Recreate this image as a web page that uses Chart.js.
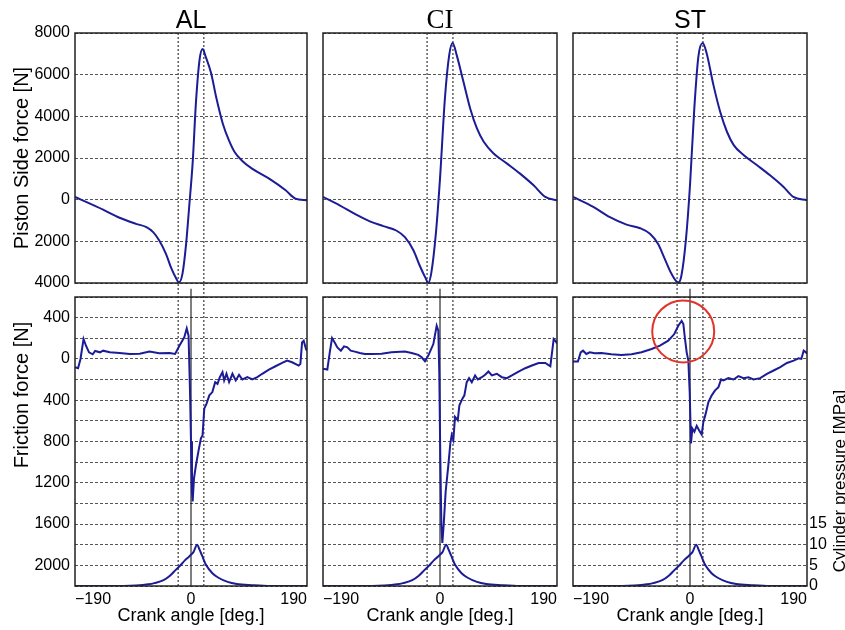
<!DOCTYPE html>
<html>
<head>
<meta charset="utf-8">
<script src="https://cdn.jsdelivr.net/npm/chart.js@4/dist/chart.umd.min.js"></script>
<style>
  html, body { margin: 0; padding: 0; background: #fff; }
  #wrap { position: relative; width: 845px; height: 630px; overflow: hidden; }
  #wrap canvas { position: absolute; left: 0; top: 0; }
</style>
</head>
<body>
<div id="wrap">
  <canvas id="alTop" width="845" height="630"></canvas>
  <canvas id="ciTop" width="845" height="630"></canvas>
  <canvas id="stTop" width="845" height="630"></canvas>
  <canvas id="alBot" width="845" height="630"></canvas>
  <canvas id="ciBot" width="845" height="630"></canvas>
  <canvas id="stBot" width="845" height="630"></canvas>
</div>
<script>
// ---- data ----
const materials = ['AL', 'CI', 'ST'];
const xTicks = [-190, 0, 190];
const guideAngles = [-21, 21];   // dotted reference lines

// piston side force [N]
const alSideAngle = [-190, -144, -117, -90, -73, -62, -52, -41, -33, -24, -20, -14, -8, -3, 3, 8, 14, 19, 24, 33, 41, 52, 62, 72, 84, 100, 128, 155, 171, 190];
const alSideForce = [130, -480, -870, -1160, -1320, -1560, -1960, -2600, -3240, -3800, -3970, -3560, -2120, -350, 1900, 4620, 6710, 7230, 6870, 6070, 4950, 3660, 2860, 2260, 1860, 1490, 1010, 450, 50, -30];
const ciSideAngle = [-190, -163, -136, -114, -92, -71, -57, -43, -33, -24, -19, -14, -6.5, 0, 8, 15, 20.5, 27, 38, 49, 60, 71, 87, 109, 130, 152, 171, 190];
const ciSideForce = [130, -270, -720, -1040, -1270, -1480, -1800, -2440, -3160, -3730, -3990, -3490, -1560, 1010, 4870, 6950, 7520, 6950, 5670, 4380, 3420, 2780, 2220, 1730, 1250, 690, 130, -30];
const stSideAngle = [-190, -157, -130, -103, -81, -65, -52, -41, -30, -19, -14, -6.5, 0, 7, 13.6, 20.6, 27, 38, 49, 60, 71, 87, 109, 130, 152, 168, 190];
const stSideForce = [130, -350, -840, -1200, -1370, -1640, -2120, -2840, -3560, -3970, -3650, -1880, 690, 4380, 6870, 7520, 7030, 5510, 4220, 3260, 2620, 2140, 1650, 1170, 610, 130, -30];

// friction force [N]
const alFricAngle = [-190, -185, -181, -176, -172, -167, -161, -157, -149, -144, -133, -117, -100, -84, -68, -52, -35, -26, -19, -11, -7, -4, -1.6, 0, 1.6, 2.7, 4.9, 8.2, 12.5, 16.3, 19, 21.7, 25.5, 30, 35, 39.6, 43.4, 47.2, 51.6, 54.3, 58.1, 62.4, 67.9, 73.3, 78.7, 84.2, 92.3, 100.4, 108.6, 116.7, 127.6, 138.4, 149.3, 157.4, 165.6, 176.4, 179.2, 181.9, 184.6, 188.4, 190];
const alFricForce = [-80, -90, 0, 193, 128, 64, 45, 77, 64, 80, 64, 58, 48, 51, 71, 55, 58, 48, 128, 209, 295, 225, -321, -803, -1284, -1380, -1156, -1027, -883, -770, -738, -482, -433, -353, -321, -225, -241, -177, -128, -209, -144, -225, -144, -209, -154, -199, -177, -199, -177, -144, -103, -71, -39, -16, -32, -64, -48, 160, 177, 96, 80];
const ciFricAngle = [-190, -183, -179, -175.3, -171, -166.7, -161, -155.8, -150.4, -145, -138.4, -130.3, -122.1, -111.3, -95, -78.7, -57, -46.1, -35.3, -29.8, -24.4, -19, -10.8, -5.4, -2.7, -1.1, 0.5, 2.2, 3.8, 6, 9.2, 13.6, 16.8, 19, 21.7, 24.4, 28.8, 31.5, 36.4, 39.6, 43.4, 47.2, 51.6, 57, 61.4, 67.9, 73.3, 78.7, 84.2, 92.3, 100.4, 108.6, 116.7, 127.6, 138.4, 149.3, 160.2, 171, 179.2, 184.6, 188.4, 190];
const ciFricForce = [-96, -103, 64, 202, 160, 112, 80, 122, 112, 80, 71, 58, 48, 48, 51, 64, 71, 58, 39, 16, -22, 32, 144, 321, 273, -160, -963, -1605, -1782, -1605, -1284, -1027, -819, -738, -786, -562, -594, -449, -385, -353, -225, -186, -225, -160, -199, -177, -154, -122, -160, -144, -177, -186, -160, -122, -90, -64, -39, -39, -71, 193, 167, 150];
const stFricAngle = [-190, -182, -177.5, -173.7, -168.3, -162.9, -154.7, -143.9, -127.6, -111.3, -95, -78.7, -62.4, -48.8, -35.3, -25.5, -19, -13.6, -10.8, -8.1, -5.4, -2.7, -0.5, 1.6, 3.8, 7.1, 10.9, 14.7, 19, 21.7, 25.5, 29.9, 35.3, 40.7, 46.2, 50.5, 54.3, 62.4, 70.6, 78.7, 86.9, 95, 103.2, 114, 124.9, 135.8, 146.6, 157.4, 168.3, 176.4, 180.8, 184.6, 188.4, 190];
const stFricForce = [-26, -26, 64, 80, 48, 64, 55, 58, 45, 39, 45, 64, 96, 128, 177, 241, 321, 369, 337, 193, 64, -16, -321, -819, -674, -706, -648, -690, -732, -610, -530, -417, -353, -305, -273, -199, -209, -186, -199, -167, -186, -177, -199, -186, -144, -112, -80, -39, -16, 6, 0, 80, 64, 50];

// cylinder pressure [MPa] (same trace under each friction plot)
const pressAngle = [-190, -110, -90, -70, -60, -45, -35, -25, -18, -10, -4, 0, 4, 10, 14, 18, 25, 35, 45, 60, 75, 100, 130, 190];
const pressValue = [0, 0, 0.1, 0.4, 0.7, 1.4, 2.4, 3.9, 4.9, 6.2, 7.0, 7.6, 8.2, 10.0, 8.8, 7.4, 5.0, 3.1, 2.0, 1.0, 0.5, 0.2, 0, 0];

// highlighted region in the ST friction plot
const highlightAngle = [-11];
const highlightForce = [266];

// ---- layout ----
const W = 845, H = 630;
const cols = [[75, 307], [323, 557], [573, 807]];
const rows = [[33, 283], [297, 586]];
const LINE = '#1c1c96';
const SANS = "'Liberation Sans', Arial, sans-serif";
const SERIF = "'Liberation Serif', 'Times New Roman', serif";

function xy(xs, ys) { return xs.map((x, i) => ({ x: x, y: ys[i] })); }

function curve(data, axis, smooth) {
  return {
    data: data, yAxisID: axis, borderColor: LINE, borderWidth: 2, pointRadius: 0,
    tension: 0, cubicInterpolationMode: smooth ? 'monotone' : 'default', order: 1
  };
}
function vline(x, y0, y1, dotted) {
  return {
    data: [{ x: x, y: y0 }, { x: x, y: y1 }], yAxisID: 'y',
    borderColor: dotted ? '#3a3a3a' : '#000', borderWidth: dotted ? 1.2 : 1,
    borderDash: dotted ? [2, 2] : [], pointRadius: 0, clip: false, order: 5
  };
}

const framePlugin = {
  id: 'frame',
  afterDatasetsDraw(chart) {
    const a = chart.chartArea, ctx = chart.ctx;
    ctx.save();
    ctx.strokeStyle = '#222';
    ctx.lineWidth = 1.5;
    ctx.strokeRect(a.left, a.top, a.right - a.left, a.bottom - a.top);
    ctx.restore();
  }
};
const sideTextPlugin = {
  id: 'sideText',
  afterDraw(chart, args, opts) {
    (opts.items || []).forEach(t => {
      const ctx = chart.ctx;
      ctx.save();
      ctx.translate(t.x, t.y);
      ctx.rotate(-Math.PI / 2);
      ctx.font = t.size + 'px ' + SANS;
      ctx.fillStyle = '#000';
      ctx.textAlign = 'center';
      ctx.textBaseline = 'middle';
      ctx.fillText(t.text, 0, 0);
      ctx.restore();
    });
  }
};

function panel(id, col, row, datasets, extra) {
  const [left, right] = cols[col];
  const [top, bottom] = rows[row];
  const yW = col === 0 ? left : 0;
  const pW = extra.pressureTicks ? 20 : 0;
  const xH = row === 1 ? H - bottom : 0;
  const tH = row === 0 ? top : 0;
  const isTop = row === 0;

  const scales = {
    x: {
      type: 'linear', min: -190, max: 190, display: !isTop,
      grid: { display: false }, border: { display: false },
      afterBuildTicks: s => { s.ticks = xTicks.map(v => ({ value: v })); },
      afterFit: s => { s.height = xH; },
      ticks: {
        autoSkip: false, maxRotation: 0, padding: -4, align: 'inner',
        font: { size: 16, family: SANS }, color: '#000',
        callback: v => v < 0 ? '\u2212' + Math.abs(v) : String(v)
      },
      title: {
        display: true, text: 'Crank angle [deg.]', color: '#000',
        font: { size: 18, family: SANS }, padding: { top: 0, bottom: 3 }
      }
    },
    y: {
      type: 'linear', position: 'left',
      min: isTop ? -4000 : -2200, max: isTop ? 8000 : 600,
      grid: { color: '#555', lineWidth: 1, drawTicks: false },
      border: { display: false, dash: [3, 2] },
      afterFit: s => { s.width = yW; },
      ticks: {
        display: col === 0, autoSkip: false, stepSize: isTop ? 2000 : 200, padding: 5,
        font: { size: 16, family: SANS }, color: '#000',
        callback: v => {
          const r = Math.round(v);
          if (isTop) return Math.abs(r);
          return (r % 400 === 0 && r >= -2000 && r <= 400) ? Math.abs(r) : '';
        }
      },
      title: {
        display: col === 0 && isTop, text: 'Piston Side force [N]', color: '#000',
        font: { size: 20, family: SANS }, padding: { top: 10, bottom: 0 }
      }
    }
  };
  if (!isTop) {
    scales.p = {
      type: 'linear', position: 'right', min: 0, max: 70,
      display: !!extra.pressureTicks,
      grid: { display: false, drawTicks: false }, border: { display: false },
      afterFit: s => { s.width = pW; },
      ticks: {
        autoSkip: false, stepSize: 5, padding: 2,
        font: { size: 16, family: SANS }, color: '#000',
        callback: v => (Math.round(v) <= 15 ? Math.round(v) : '')
      }
    };
  }

  return new Chart(document.getElementById(id), {
    type: 'line',
    data: { datasets: datasets },
    plugins: [framePlugin, sideTextPlugin],
    options: {
      responsive: false, animation: false, events: [],
      layout: { padding: { left: left - yW, right: W - right - pW, top: top - tH, bottom: H - bottom - xH } },
      scales: scales,
      plugins: {
        legend: { display: false },
        tooltip: { enabled: false },
        title: {
          display: isTop, text: extra.title || '', color: '#000', fullSize: false,
          font: { size: extra.serif ? 27 : 25, weight: 'normal', family: extra.serif ? SERIF : SANS, lineHeight: '24px' },
          padding: { top: 9, bottom: 0 }
        },
        sideText: { items: extra.sideText || [] }
      }
    }
  });
}

const sideSets = [xy(alSideAngle, alSideForce), xy(ciSideAngle, ciSideForce), xy(stSideAngle, stSideForce)];
const fricSets = [xy(alFricAngle, alFricForce), xy(ciFricAngle, ciFricForce), xy(stFricAngle, stFricForce)];
const pressure = xy(pressAngle, pressValue);
const topIds = ['alTop', 'ciTop', 'stTop'];
const botIds = ['alBot', 'ciBot', 'stBot'];

materials.forEach((m, i) => {
  const topData = [curve(sideSets[i], 'y', true)]
    .concat(guideAngles.map(g => vline(g, -4000, 8000, true)));
  panel(topIds[i], i, 0, topData, { title: m, serif: m === 'CI' });

  const botData = [curve(fricSets[i], 'y', false), curve(pressure, 'p', true)]
    .concat(guideAngles.map(g => vline(g, -2200, 740, true)))
    .concat([vline(0, -2200, 680, false)]);
  const extra = {};
  if (i === 0) extra.sideText = [{ text: 'Friction force [N]', x: 22, y: 395, size: 20 }];
  if (m === 'ST') {
    extra.pressureTicks = true;
    extra.sideText = [{ text: 'Cylinder pressure [MPa]', x: 840, y: 481, size: 17 }];
    botData.unshift({
      data: xy(highlightAngle, highlightForce), yAxisID: 'y', showLine: false,
      pointRadius: 31, pointBorderWidth: 2, pointBorderColor: '#e2332b',
      pointBackgroundColor: 'rgba(0,0,0,0)', clip: false, order: 0
    });
  }
  panel(botIds[i], i, 1, botData, extra);
});
</script>
</body>
</html>
